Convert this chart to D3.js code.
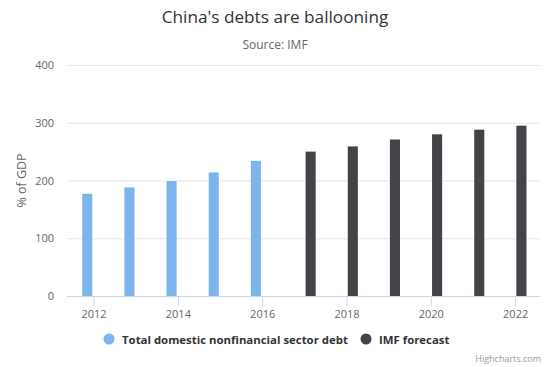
<!DOCTYPE html>
<html>
<head>
<meta charset="utf-8">
<script src="https://cdn.jsdelivr.net/npm/d3@7"></script>
<style>
  body { margin: 0; background: #fff; }
  text { font-family: "Open Sans", "DejaVu Sans", sans-serif; }
</style>
</head>
<body>
<div id="chart"></div>
<script>
// data
const histYears = [2012, 2013, 2014, 2015, 2016];
const histValues = [177, 188, 199, 214, 234];
const forecastYears = [2017, 2018, 2019, 2020, 2021, 2022];
const forecastValues = [250, 259, 271, 280, 288, 295];
const seriesNames = ["Total domestic nonfinancial sector debt", "IMF forecast"];
const seriesColors = ["#7cb5ec", "#434348"];
const yTicks = [0, 100, 200, 300, 400];
const xTicks = [2012, 2014, 2016, 2018, 2020, 2022];

const width = 550, height = 367;
const plot = { left: 67, right: 540, top: 65, bottom: 296 };

const svg = d3.select("#chart").append("svg")
  .attr("width", width)
  .attr("height", height);

const x = d3.scaleLinear().domain([2011.37, 2022.59]).range([plot.left, plot.right]);
const y = d3.scaleLinear().domain([0, 400]).range([plot.bottom, plot.top]);
// slot of each series inside a year
const slot = d3.scaleBand().domain([0, 1]).range([-12.6, 12.6]).paddingInner(0.2).paddingOuter(0.1);

// title
svg.append("text")
  .attr("x", width / 2).attr("y", 23)
  .attr("text-anchor", "middle")
  .attr("fill", "#333").attr("font-size", 17.2)
  .text("China's debts are ballooning");

svg.append("text")
  .attr("x", width / 2).attr("y", 49)
  .attr("text-anchor", "middle")
  .attr("fill", "#666").attr("font-size", 12)
  .text("Source: IMF");

// grid
svg.append("g")
  .selectAll("line")
  .data(yTicks.filter(d => d > 0))
  .enter().append("line")
  .attr("x1", plot.left).attr("x2", plot.right)
  .attr("y1", d => y(d) + 0.5).attr("y2", d => y(d) + 0.5)
  .attr("stroke", "#e6e6e6");

// y axis labels
const yAxis = svg.append("g")
  .attr("transform", `translate(${plot.left},0)`)
  .call(d3.axisLeft(y).tickValues(yTicks).tickSize(0).tickPadding(13));
yAxis.select(".domain").remove();
yAxis.selectAll("text")
  .attr("fill", "#666").attr("font-size", 11)
  .attr("font-family", "'Open Sans', 'DejaVu Sans', sans-serif");

svg.append("text")
  .attr("transform", `translate(26,${(plot.top + plot.bottom) / 2}) rotate(-90)`)
  .attr("text-anchor", "middle")
  .attr("fill", "#666").attr("font-size", 12.5)
  .text("% of GDP");

// bars
const series = [
  histYears.map((yr, i) => ({ year: yr, value: histValues[i], s: 0 })),
  forecastYears.map((yr, i) => ({ year: yr, value: forecastValues[i], s: 1 }))
];

series.forEach((data, si) => {
  svg.append("g")
    .selectAll("rect")
    .data(data)
    .enter().append("rect")
    .attr("x", d => x(d.year) + slot(d.s))
    .attr("width", slot.bandwidth())
    .attr("y", d => y(d.value))
    .attr("height", d => y(0) - y(d.value))
    .attr("fill", seriesColors[si]);
});

// x axis
const xAxis = svg.append("g")
  .attr("transform", `translate(0,${plot.bottom})`)
  .call(d3.axisBottom(x).tickValues(xTicks).tickFormat(d3.format("d")).tickSize(10).tickPadding(4));
xAxis.select(".domain").attr("stroke", "#ccd6eb").attr("d", `M${plot.left},0.5H${plot.right}`);
xAxis.selectAll(".tick line").attr("stroke", "#ccd6eb");
xAxis.selectAll("text")
  .attr("fill", "#666").attr("font-size", 11)
  .attr("font-family", "'Open Sans', 'DejaVu Sans', sans-serif");

// legend
const legend = svg.append("g").attr("transform", "translate(0,339)");
const legendX = [109, 366];
seriesNames.forEach((name, i) => {
  legend.append("circle")
    .attr("cx", legendX[i]).attr("cy", 0).attr("r", 5.5)
    .attr("fill", seriesColors[i]);
  legend.append("text")
    .attr("x", legendX[i] + 13).attr("y", 4.5)
    .attr("fill", "#333").attr("font-size", 11.4).attr("font-weight", "bold")
    .text(name);
});

// credits
svg.append("text")
  .attr("x", 541).attr("y", 362)
  .attr("text-anchor", "end")
  .attr("fill", "#999").attr("font-size", 9)
  .text("Highcharts.com");
</script>
</body>
</html>
